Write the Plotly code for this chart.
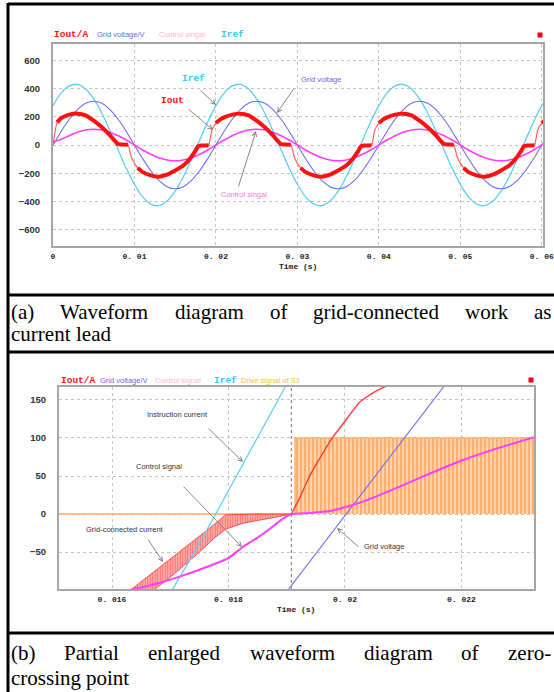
import plotly.graph_objects as go

# ---------------- DATA ----------------
# Chart (a): time in ms
T_A_MS = list(range(0, 62))
IREF_A = [279, 367, 418, 429, 397, 327, 225, 100, -34, -165, -279, -367, -418, -429, -397, -327, -225, -100, 34, 165,
          279, 367, 418, 429, 397, 327, 225, 100, -34, -165, -279, -367, -418, -429, -397, -327, -225, -100, 34, 165,
          279, 367, 418, 429, 397, 327, 225, 100, -34, -165, -279, -367, -418, -429, -397, -327, -225, -100, 34, 165,
          279, 367]
GRID_A = [0, 96, 182, 251, 295, 310, 295, 251, 182, 96, 0, -96, -182, -251, -295, -310, -295, -251, -182, -96,
          0, 96, 182, 251, 295, 310, 295, 251, 182, 96, 0, -96, -182, -251, -295, -310, -295, -251, -182, -96,
          0, 96, 182, 251, 295, 310, 295, 251, 182, 96, 0, -96, -182, -251, -295, -310, -295, -251, -182, -96,
          0, 96]
CTRL_A = [20, 40, 66, 91, 106, 112, 106, 91, 66, 35, 0, -35, -66, -91, -106, -112, -106, -91, -66, -35,
          0, 35, 66, 91, 106, 112, 106, 91, 66, 35, 0, -35, -66, -91, -106, -112, -106, -91, -66, -35,
          0, 35, 66, 91, 106, 112, 106, 91, 66, 35, 0, -35, -66, -91, -106, -112, -106, -91, -66, -35,
          0, 35]

IOUT_A_T_MS = [0, 0.5, 1, 2, 3, 4, 5, 6, 7, 7.5, 8, 8.5, 9.2, 9.6, 10, 10.4, 11, 12, 13, 14, 15, 16, 16.5, 17, 17.5, 17.8, 18.2, 18.7, 19.1, 19.5,
               20, 20.5, 21, 22, 23, 24, 25, 26, 27, 27.5, 28, 28.5, 29.2, 29.6, 30, 30.4, 31, 32, 33, 34, 35, 36, 36.5, 37, 37.5, 37.8, 38.2, 38.7, 39.1, 39.5,
               40, 40.5, 41, 42, 43, 44, 45, 46, 47, 47.5, 48, 48.5, 49.2, 49.6, 50, 50.4, 51, 52, 53, 54, 55, 56, 56.5, 57, 57.5, 57.8, 58.2, 58.7, 59.1, 59.5,
               60, 60.5]
IOUT_A = [0, 160, 190, 215, 222, 210, 172, 125, 68, 35, 6, 3, 2, -83, -130, -162, -192, -215, -224, -210, -180, -145, -118, -82, -40, -10, -3, -3, -2, 105,
          155, 180, 196, 215, 222, 210, 172, 125, 68, 35, 6, 3, 2, -83, -130, -162, -192, -215, -224, -210, -180, -145, -118, -82, -40, -10, -3, -3, -2, 105,
          155, 180, 196, 215, 222, 210, 172, 125, 68, 35, 6, 3, 2, -83, -130, -162, -192, -215, -224, -210, -180, -145, -118, -82, -40, -10, -3, -3, -2, 105,
          155, 180]
# spans (ms) where Iout is a thin fast transition instead of the thick ripple band
IOUT_A_THIN_SPANS = [(-1, 0.5), (9.2, 10.4), (19.1, 20.0), (29.2, 30.4), (39.1, 40.0), (49.2, 50.4), (59.1, 60.0)]

X_TICKS_A = [0, 0.01, 0.02, 0.03, 0.04, 0.05, 0.06]
X_TICKTEXT_A = ["0", "0. 01", "0. 02", "0. 03", "0. 04", "0. 05", "0. 06"]
Y_TICKS_A = [-600, -400, -200, 0, 200, 400, 600]

# Chart (b): time in ms
IREF_B_T = [17.00, 17.40, 17.78, 18.25, 18.50, 18.98]
IREF_B = [-104, -52, 0, 66, 100, 168]
GRID_B_T = [18.98, 19.50, 20.02, 20.50, 21.00, 21.50, 21.72]
GRID_B = [-104, -52, 0, 48, 98, 148, 170]
CTRL_B_T = [16.30, 16.75, 17.25, 17.75, 18.00, 18.25, 18.50, 18.75, 18.90, 19.08, 19.40, 19.74, 20.03, 20.37, 20.88, 21.45, 22.03, 22.60, 23.25]
CTRL_B = [-100, -92, -80, -66, -58, -43, -31, -17, -8, 0, 1.5, 4, 9.5, 18, 34, 53, 71, 86, 101]
IOUT_B_T = [16.30, 16.50, 16.75, 17.00, 17.25, 17.50, 17.75, 17.95, 18.25, 18.50, 18.75, 19.08]
IOUT_B_UP = [-101, -89, -74, -59, -44, -30, -14, -1, 0, 0, 0, 0]
IOUT_B_LO = [-126, -113, -98, -83, -67, -50, -32, -20, -12, -8, -5, 0]
IOUT_B_RISE_T = [19.08, 19.22, 19.40, 19.62, 19.80, 20.03, 20.25, 20.54, 20.77]
IOUT_B_RISE = [0, 21, 51, 80, 102, 125, 147, 162, 170]
DRIVE_B_T = [15.00, 19.14, 19.14, 23.30]
DRIVE_B = [0, 0, 100, 100]
CURSOR_B_MS = 19.08

X_TICKS_B = [0.016, 0.018, 0.02, 0.022]
X_TICKTEXT_B = ["0. 016", "0. 018", "0. 02", "0. 022"]
Y_TICKS_B = [-50, 0, 50, 100, 150]

# ---------------- helpers ----------------
W, H = 554, 692
def fx(px):
    return px / W
def fy(py):
    return 1 - py / H
def sec(lst):
    return [v / 1000 for v in lst]

C_IREF = "#5CCEF4"
C_GRID = "#6E6EEE"
C_CTRL = "#FF3CFF"
C_IOUT = "#FF1010"
C_DRIVE = "#FF8A28"

fig = go.Figure()

# ---------------- chart (a) traces ----------------
ta = sec(T_A_MS)
fig.add_trace(go.Scatter(x=ta, y=IREF_A, mode="lines", line=dict(color=C_IREF, width=1.3, shape="spline"),
                         xaxis="x", yaxis="y", hoverinfo="skip"))
fig.add_trace(go.Scatter(x=ta, y=GRID_A, mode="lines", line=dict(color=C_GRID, width=1.1, shape="spline"),
                         xaxis="x", yaxis="y", hoverinfo="skip"))
fig.add_trace(go.Scatter(x=ta, y=CTRL_A, mode="lines", line=dict(color=C_CTRL, width=1.6, shape="spline"),
                         xaxis="x", yaxis="y", hoverinfo="skip"))
ti = sec(IOUT_A_T_MS)
fig.add_trace(go.Scatter(x=ti, y=IOUT_A, mode="lines", line=dict(color="#FF6060", width=1.2, shape="spline", smoothing=0.5),
                         xaxis="x", yaxis="y", hoverinfo="skip"))
thick = []
for t, v in zip(IOUT_A_T_MS, IOUT_A):
    inside = any(a < t < b for a, b in IOUT_A_THIN_SPANS)
    thick.append(None if inside else v)
fig.add_trace(go.Scatter(x=ti, y=thick, mode="lines", line=dict(color=C_IOUT, width=4, shape="spline", smoothing=0.5),
                         connectgaps=False, xaxis="x", yaxis="y", hoverinfo="skip"))

# ---------------- chart (b) traces ----------------
fig.add_trace(go.Scatter(x=sec(DRIVE_B_T), y=DRIVE_B, mode="lines", fill="tozeroy",
                         line=dict(color="#FFB070", width=1.4),
                         fillcolor="rgba(255,200,150,0.55)",
                         fillpattern=dict(shape="|", fgcolor=C_DRIVE, bgcolor="rgba(255,214,178,0.95)", size=4, solidity=0.55),
                         xaxis="x2", yaxis="y2", hoverinfo="skip"))
fig.add_trace(go.Scatter(x=sec(IOUT_B_T), y=IOUT_B_LO, mode="lines", line=dict(color="#FF3030", width=0.8),
                         xaxis="x2", yaxis="y2", hoverinfo="skip"))
fig.add_trace(go.Scatter(x=sec(IOUT_B_T), y=IOUT_B_UP, mode="lines", line=dict(color="#FF3030", width=0.8),
                         fill="tonexty", fillcolor="rgba(255,80,80,0.5)",
                         fillpattern=dict(shape="|", fgcolor="#FF0A0A", bgcolor="rgba(255,190,190,0.7)", size=2.5, solidity=0.6),
                         xaxis="x2", yaxis="y2", hoverinfo="skip"))
fig.add_trace(go.Scatter(x=sec(IREF_B_T), y=IREF_B, mode="lines", line=dict(color=C_IREF, width=1.2),
                         xaxis="x2", yaxis="y2", hoverinfo="skip"))
fig.add_trace(go.Scatter(x=sec(GRID_B_T), y=GRID_B, mode="lines", line=dict(color=C_GRID, width=1.1),
                         xaxis="x2", yaxis="y2", hoverinfo="skip"))
fig.add_trace(go.Scatter(x=sec(CTRL_B_T), y=CTRL_B, mode="lines", line=dict(color=C_CTRL, width=2.0, shape="spline", smoothing=0.4),
                         xaxis="x2", yaxis="y2", hoverinfo="skip"))
fig.add_trace(go.Scatter(x=sec(IOUT_B_RISE_T), y=IOUT_B_RISE, mode="lines", line=dict(color="#FF3A3A", width=1.4, shape="spline", smoothing=0.5),
                         xaxis="x2", yaxis="y2", hoverinfo="skip"))

# ---------------- axes ----------------
grid = dict(showgrid=True, gridcolor="#C4C4C4", griddash="dot", gridwidth=1, zeroline=False,
            showline=True, mirror=True, linecolor="#A6A6A6", linewidth=2, ticks="", automargin=False)
xfont = dict(family="Liberation Mono", size=8, color="#222", weight="bold")
yfont = dict(family="Liberation Sans", size=9.5, color="#333", weight="bold")

fig.update_layout(
    width=W, height=H, margin=dict(l=0, r=0, t=0, b=0, autoexpand=False),
    paper_bgcolor="white", plot_bgcolor="white", showlegend=False,
    xaxis=dict(domain=[fx(53), fx(543)], range=[0, 0.06015], anchor="y",
               tickvals=X_TICKS_A, ticktext=X_TICKTEXT_A, tickfont=xfont, ticklabelstandoff=1,
               ticklabeloverflow="allow", **grid),
    yaxis=dict(domain=[fy(246), fy(44)], range=[-715, 715], anchor="x",
               tickvals=Y_TICKS_A, tickfont=yfont, ticklabelstandoff=9, **grid),
    xaxis2=dict(domain=[fx(59), fx(534)], range=[0.01509, 0.023245], anchor="y2",
                tickvals=X_TICKS_B, ticktext=X_TICKTEXT_B, tickfont=xfont, ticklabelstandoff=1, **grid),
    yaxis2=dict(domain=[fy(589), fy(387)], range=[-98.5, 167], anchor="x2",
                tickvals=Y_TICKS_B, tickfont=yfont, ticklabelstandoff=9, **grid),
)

shapes = []
# cursor line in chart (b)
shapes.append(dict(type="line", xref="x2", yref="y2 domain", x0=CURSOR_B_MS / 1000, x1=CURSOR_B_MS / 1000, y0=0, y1=1,
                   line=dict(color="#8A8A8A", width=1.2, dash="dot")))
# frame lines
blk = dict(color="black", width=3)
shapes.append(dict(type="line", xref="paper", yref="paper", x0=fx(8), x1=fx(554), y0=fy(4), y1=fy(4), line=blk))
shapes.append(dict(type="line", xref="paper", yref="paper", x0=fx(8), x1=fx(8), y0=fy(3), y1=fy(692), line=blk))
for yy in (295, 352, 633):
    shapes.append(dict(type="line", xref="paper", yref="paper", x0=fx(8), x1=fx(554), y0=fy(yy), y1=fy(yy), line=blk))
# small red legend squares
for (sx, sy) in ((540, 35), (531, 380)):
    shapes.append(dict(type="rect", xref="paper", yref="paper", x0=fx(sx - 2.5), x1=fx(sx + 2.5), y0=fy(sy + 2.5), y1=fy(sy - 2.5),
                       fillcolor="#FF0000", line=dict(width=0)))
fig.update_layout(shapes=shapes)

ann = []
def text(px, py, s, color="#333", size=8, family="Liberation Sans", weight="normal", xanchor="center"):
    ann.append(dict(xref="paper", yref="paper", x=fx(px), y=fy(py), text=s, showarrow=False, xanchor=xanchor,
                    yanchor="middle", borderpad=0, font=dict(family=family, size=size, color=color, weight=weight)))
def arrow(tail, head):
    ann.append(dict(xref="paper", yref="paper", x=fx(head[0]), y=fy(head[1]), text="", showarrow=True,
                    ax=tail[0] - head[0], ay=tail[1] - head[1], axref="pixel", ayref="pixel",
                    arrowhead=5, arrowsize=1, arrowwidth=0.9, arrowcolor="#7A7A7A"))

MONO = "Liberation Mono"
# legends
text(53, 35, "Iout/A", C_IOUT, 9.5, MONO, "bold", "left")
text(96, 35, "Grid voltage/V", "#6A6AE0", 7.5, xanchor="left")
text(158, 35, "Control singal", "#FFB3D6", 7.5, xanchor="left")
text(220, 35, "Iref", "#3CC6F2", 9.5, MONO, "bold", "left")
text(60, 380, "Iout/A", C_IOUT, 9.5, MONO, "bold", "left")
text(99, 380, "Grid voltage/V", "#6A6AE0", 7.5, xanchor="left")
text(154, 380, "Control signal", "#FFB3D6", 7.5, xanchor="left")
text(213, 380, "Iref", "#3CC6F2", 9.5, MONO, "bold", "left")
text(240, 380, "Drive signal of S3", "#F3C23A", 7.5, xanchor="left")

# axis titles
text(298, 266, "Time (s)", "#222", 8, MONO, "bold")
text(296, 609, "Time (s)", "#222", 8, MONO, "bold")

# chart (a) callouts
text(193, 79, "Iref", "#3CC6F2", 9.5, MONO, "bold")
arrow((199, 89), (216, 105))
text(172, 101, "Iout", C_IOUT, 9.5, MONO, "bold")
arrow((187, 108), (213, 130))
text(321, 80, "Grid voltage", "#6A6AE0", 7.5)
arrow((295, 87), (277, 113))
text(244, 195, "Control singal", "#F27AD6", 7.5)
arrow((238, 188), (256, 131))

# chart (b) callouts
text(177, 414, "Instruction current", "#333", 7.5)
arrow((207, 427), (243, 462))
text(159, 466, "Control signal", "#333", 7.5)
arrow((182, 485), (242, 547))
text(125, 529, "Grid-connected current", "#333", 7.5)
arrow((147, 538), (163, 562))
text(384, 546, "Grid voltage", "#333", 7.5)
arrow((360, 548), (337, 528))

# captions (justified like the original)
TW = {' ': 250, '(': 333, ')': 333, '-': 333, 'a': 444, 'b': 500, 'c': 444, 'd': 500, 'e': 444, 'f': 333, 'g': 500,
      'h': 500, 'i': 278, 'k': 500, 'l': 278, 'm': 778, 'n': 500, 'o': 500, 'p': 500, 'r': 333, 's': 389, 't': 278,
      'u': 500, 'v': 500, 'w': 722, 'z': 444, 'W': 944, 'P': 556}
CAP = 21
def tw(s):
    return sum(TW.get(c, 500) for c in s) / 1000 * CAP
def caption_line(line, py, x0=10, x1=550, last=False):
    words = line.split(" ")
    widths = [tw(w) for w in words]
    gap = 0.25 * CAP if last or len(words) == 1 else (x1 - x0 - sum(widths)) / (len(words) - 1)
    x = x0
    for w, wd in zip(words, widths):
        text(x, py, w, "black", CAP, "Liberation Serif", "normal", "left")
        x += wd + gap

caption_line("(a) Waveform diagram of grid-connected work as", 312)
caption_line("current lead", 334, last=True)
caption_line("(b) Partial enlarged waveform diagram of zero-", 653)
caption_line("crossing point", 678, last=True)

fig.update_layout(annotations=ann)
fig.write_html("out.html", config={"displayModeBar": False},
               post_script="document.body.style.margin='0';document.body.style.padding='0';"
                           "document.body.style.overflow='hidden';")
